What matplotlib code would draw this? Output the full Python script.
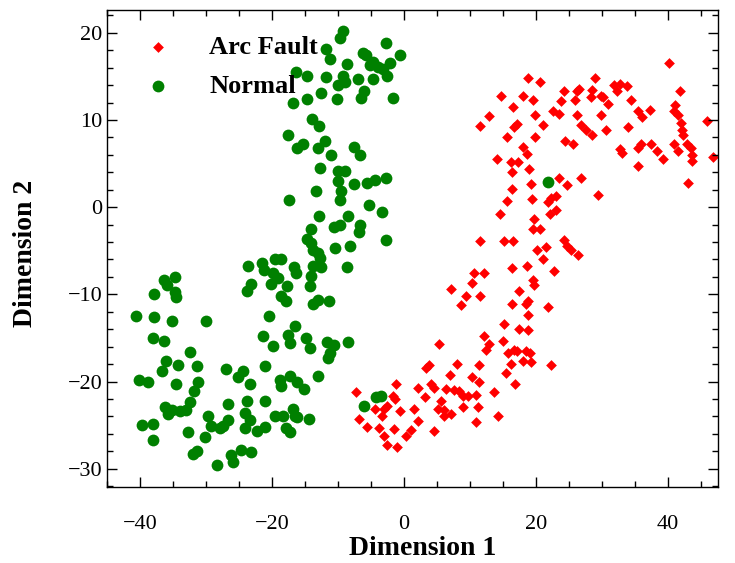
import matplotlib
matplotlib.use('Agg')
import matplotlib.pyplot as plt
from matplotlib.ticker import MultipleLocator

# t-SNE coordinates
arc_x = [18.8, 20.6, 14.7, 18.1, 19.5, 24.2, 23.8, 16.5, 12.9, 11.5, 19.8, 22.6, 23.5, 17.1, 16.7,
         21.1, 15.6, 19.8, 24.4, 18.1, 18.6, 14.1, 16.2, 17.3, 19.0,
         40.1, 29.0, 26.6, 26.2, 28.5, 28.3, 29.9, 30.2, 31.8, 32.8, 33.8, 32.3, 30.9, 34.4, 25.9,
         41.8, 41.1, 40.9, 41.6, 42.0, 42.1, 42.3, 42.9, 43.5, 43.6, 43.6, 35.4, 36.1, 37.3, 26.2,
         29.9, 26.9, 27.6, 28.5, 30.6, 34.0, 25.6, 45.9, 32.8, 33.0, 35.4, 35.9, 37.5, 38.3, 40.9,
         41.6, 39.2, 46.8, 35.4,
         26.8, 24.7, 29.4, 43.0, 24.2, 24.7, 25.3, 26.4,
         16.4, 23.5, 16.4, 19.3, 15.6, 19.4, 21.8, 23.1, 22.3, 23.0, 22.1, 14.5, 19.7, 19.5, 20.6,
         11.5, 15.2, 16.5, 20.2, 21.5, 21.1, 10.6, 12.2, 16.4, 18.6, 22.8, 10.3, 19.5, 19.7, 7.2,
         9.4, 11.5, 17.4, 18.8, 18.5, 8.6, 16.4, 21.9, 18.8, 15.2, 17.4, 18.8,
         12.2, 12.9, 12.4, 5.3, 15.0, 15.7, 16.7, 17.1, 18.5, 19.1, 18.1, 19.3, 22.3, 16.2, 15.5,
         16.9, 3.8, 3.4, 8.1, 11.4, 7.0, 10.3, 11.4, 2.2, 4.1, 4.6, 6.3, 7.6, 8.4, 8.9, 3.2, 9.7,
         10.9, 13.6, 5.6, 5.1, 6.0, 6.0, 7.1, 8.9, 11.2, 1.5, 14.3, 2.2, 10.9, 1.1, 4.6,
         -7.3, -1.2, -1.6, -1.4, -4.4, -3.0, -2.6, -3.3, -0.6, -6.8, -5.6, -3.8, -1.5, -3.0, 0.3,
         -2.6, -1.1]
arc_y = [14.8, 14.3, 12.8, 12.7, 12.3, 13.3, 12.2, 11.5, 10.4, 9.3, 10.6, 11.0, 10.7, 9.5, 9.2,
         9.4, 8.0, 8.0, 7.6, 6.9, 6.1, 5.5, 5.2, 5.2, 4.4,
         16.5, 14.8, 13.5, 13.3, 13.4, 12.6, 12.8, 12.6, 14.0, 14.1, 13.9, 13.3, 11.8, 12.3, 12.3,
         13.3, 11.7, 11.0, 10.6, 9.6, 8.8, 8.3, 7.3, 6.8, 6.0, 5.3, 11.0, 10.3, 11.1, 10.6,
         10.6, 9.4, 8.8, 8.3, 8.8, 9.2, 7.2, 9.9, 6.7, 6.2, 6.8, 7.2, 7.3, 6.4, 7.3,
         6.4, 5.5, 5.7, 4.7,
         3.4, 2.5, 1.4, 2.8, -3.8, -4.5, -4.9, -5.5,
         4.0, 3.4, 2.1, 2.6, 0.7, 0.9, 0.6, 1.3, 1.0, -0.3, -0.8, -0.8, -1.4, -2.5, -2.5,
         -3.9, -3.9, -3.9, -4.9, -4.6, -6.0, -7.5, -7.6, -7.0, -6.8, -7.3, -8.7, -8.4, -8.9, -9.4,
         -10.2, -10.2, -9.6, -10.8, -11.1, -11.2, -11.1, -11.5, -12.4, -13.4, -14.0, -14.1,
         -14.8, -15.7, -16.4, -15.7, -15.4, -16.7, -16.4, -16.5, -16.5, -16.7, -17.7, -17.8, -18.1, -18.0, -19.0,
         -20.3, -18.1, -18.5, -18.0, -18.1, -19.3, -19.5, -20.0, -20.8, -20.3, -20.8, -20.9, -21.0, -21.1, -21.7, -21.8, -21.7,
         -21.6, -21.2, -22.2, -23.1, -23.3, -24.0, -23.7, -22.9, -22.9, -23.1, -23.9, -24.5, -24.7, -25.6, -25.7,
         -21.2, -20.3, -21.7, -22.0, -23.1, -23.2, -22.8, -23.9, -23.4, -24.3, -25.2, -25.3, -25.5, -26.3, -26.3,
         -27.3, -27.5]

normal_x = [-9.2, -9.7, -11.8, -11.2, -2.7, -6.2, -5.8, -0.6, -4.7, -5.1, -8.7, -2.1, -3.9, -3.2,
            -16.3, -14.7, -11.8, -9.2, -8.9, -10.0, -7.0, -4.7, -2.5, -6.1, -6.5, -12.5, -16.8,
            -14.7, -10.1, -1.6, -13.9, -12.9, -17.6, -15.3, -16.2, -12.0, -13.0, -11.0, -7.5, -6.6,
            -12.7, -10.0, -8.9,
            -10.0, -7.5, -5.6, -4.4, -2.7, -13.4, -9.6, -17.4, -9.7, -5.3, -3.3, -12.9, -8.5,
            -10.6, -9.7, -6.6, -6.8, -14.1, -14.7, -14.1, -2.7, -10.4, -8.2, -13.8, -13.0, -12.7,
            -19.6, -18.6, -21.5, -21.2, -13.8, -12.5, -8.7, -16.7, -16.3, -19.8, -19.1, -14.1,
            -14.2, -20.1, -17.7, -18.6, -17.9, -13.0, -13.8, -11.3, -20.5, -16.5,
            -23.6, -23.2, -23.8, -36.4, -34.7, -35.9, -34.7, -34.5, -37.9, -40.6, -37.9, -35.2, -30.0,
            -38.0, -36.4, -32.4, -36.1, -36.6, -34.3, -31.4, -40.2, -38.8, -34.5, -31.2, -31.8,
            -27.0, -24.4, -25.1, -23.3, -32.4, -33.1, -34.0, -35.2, -36.2, -35.7, -26.7, -23.8,
            -24.1, -23.3, -24.1, -29.7, -29.3, -27.9, -27.4, -26.7, -39.7, -38.0, -38.0, -32.7,
            -30.2, -22.2, -31.9, -31.4, -26.2, -25.9, -24.7, -23.2, -28.3,
            -21.4, -19.8, -17.6, -17.2, -14.8, -14.2, -11.7, -10.6, -11.2, -11.5, -8.5, -21.0,
            -18.8, -18.6, -17.2, -16.2, -15.1, -13.0, -21.0, -19.6, -18.4, -16.8, -16.5, -16.2,
            -14.4, -17.9, -17.2, -21.0, -6.1, -4.2, -3.5,
            21.9]
normal_y = [20.2, 19.4, 18.1, 17.0, 18.8, 17.7, 17.4, 17.4, 16.7, 16.3, 16.4, 16.5, 16.1, 15.8,
            15.5, 15.1, 14.9, 15.0, 14.3, 14.0, 14.7, 14.7, 15.0, 13.3, 12.5, 13.1, 12.0,
            12.4, 12.4, 12.5, 10.1, 9.3, 8.3, 7.3, 6.8, 7.6, 6.8, 6.0, 6.9, 6.0,
            4.5, 4.1, 4.1,
            3.0, 2.6, 2.8, 3.1, 3.4, 1.8, 1.8, 0.8, 0.8, 0.3, -0.5, -1.0, -1.0,
            -2.3, -2.1, -2.1, -2.9, -2.5, -3.6, -4.1, -3.8, -4.7, -4.4, -4.9, -5.3, -5.8,
            -6.0, -6.0, -6.4, -7.2, -6.7, -6.9, -6.9, -6.9, -7.5, -7.6, -8.1, -7.9,
            -9.1, -8.8, -9.1, -10.2, -10.8, -10.7, -11.1, -10.8, -12.5, -13.6,
            -6.8, -8.8, -9.6, -8.3, -8.0, -8.9, -9.7, -10.3, -10.0, -12.5, -12.6, -13.1, -13.1,
            -15.0, -15.3, -16.6, -17.7, -18.8, -18.1, -18.2, -19.8, -20.0, -20.3, -20.1, -21.1,
            -18.6, -18.8, -19.5, -20.3, -22.4, -23.3, -23.4, -23.3, -22.9, -23.7, -22.6, -22.2,
            -23.6, -24.4, -25.3, -23.9, -25.1, -25.3, -25.1, -24.4, -25.0, -24.9, -26.7, -25.8,
            -26.4, -25.7, -28.3, -28.0, -28.4, -29.2, -27.9, -28.1, -29.6,
            -14.8, -15.9, -14.7, -15.6, -15.0, -16.1, -15.5, -15.8, -16.7, -17.3, -15.5, -18.2,
            -19.8, -20.5, -19.4, -20.1, -20.9, -19.4, -22.2, -24.0, -24.0, -23.2, -24.0, -24.1,
            -24.3, -25.3, -25.8, -25.2, -22.8, -21.8, -21.7,
            2.9]

plt.rcParams['font.family'] = 'serif'
plt.rcParams['font.serif'] = ['Liberation Serif', 'DejaVu Serif']
plt.rcParams['axes.unicode_minus'] = True

fig = plt.figure(figsize=(7.35, 5.63), dpi=100)
ax = fig.add_axes([0.1456, 0.135, 0.8313, 0.847])

ax.scatter(arc_x, arc_y, marker='D', s=30, color='#ff0000', linewidths=0, label='Arc Fault')
ax.scatter(normal_x, normal_y, marker='o', s=72, color='#008000', linewidths=0, label='Normal')

ax.set_xlim(-45.0, 47.6)
ax.set_ylim(-32.1, 22.6)
ax.xaxis.set_major_locator(MultipleLocator(20))
ax.xaxis.set_minor_locator(MultipleLocator(5))
ax.yaxis.set_major_locator(MultipleLocator(10))
ax.yaxis.set_minor_locator(MultipleLocator(2))
ax.tick_params(which='both', direction='in', top=True, right=True, labelsize=16, width=1)
ax.tick_params(which='major', length=7)
ax.tick_params(which='minor', length=4)
ax.tick_params(axis='x', which='major', pad=20)
for sp in ax.spines.values():
    sp.set_linewidth(1)

ax.set_xlabel('Dimension 1', fontsize=20, fontweight='bold')
ax.set_ylabel('Dimension 2', fontsize=20, fontweight='bold')
ax.xaxis.set_label_coords(0.517, -0.102)
ax.yaxis.set_label_coords(-0.113, 0.49)

ax.legend(loc='upper left', frameon=False, prop={'size': 19, 'weight': 'bold'},
          handletextpad=0.93, borderaxespad=0.55, labelspacing=0.6)

fig.savefig('out.png', dpi=100)
